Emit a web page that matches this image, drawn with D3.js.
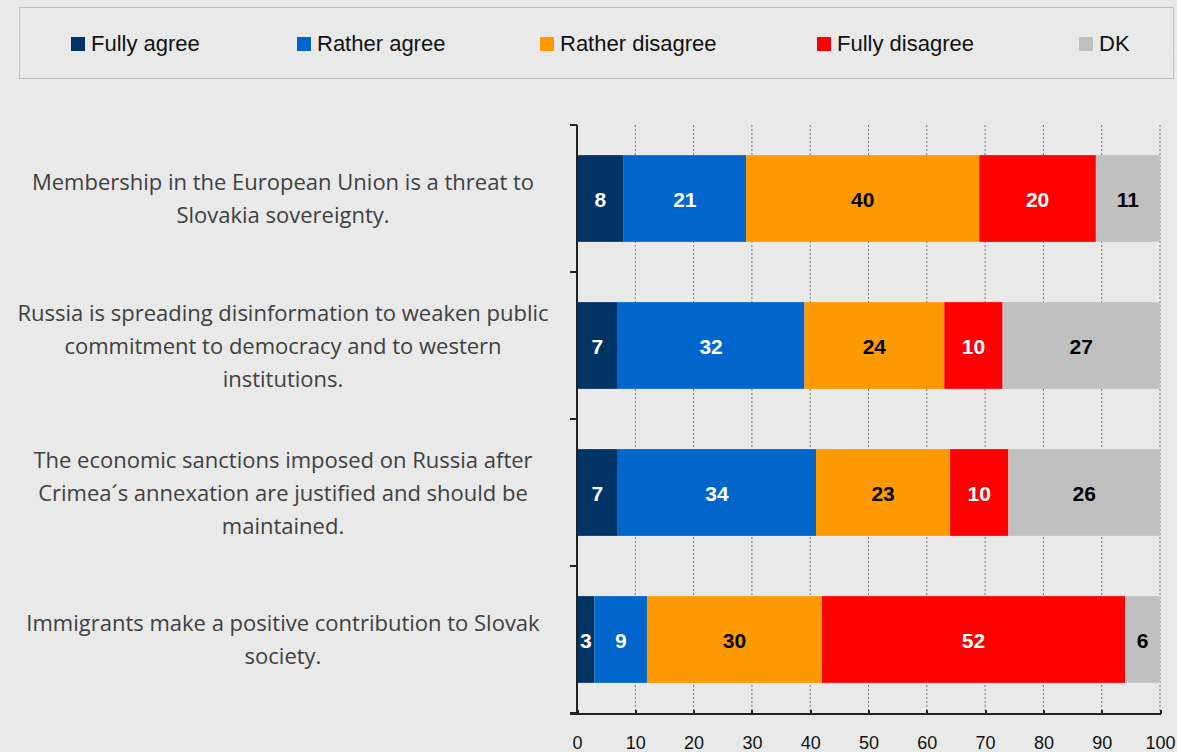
<!DOCTYPE html>
<html lang="en">
<head>
<meta charset="UTF-8" />
<title>Slovakia survey</title>
<script src="https://d3js.org/d3.v7.min.js"></script>
<style>
    body { margin: 0; background: #e9e9e9; }
    .axis path, .axis line { fill: none; stroke: #222; stroke-width: 2px; shape-rendering: crispEdges; }
    .axis text { font-family: "Liberation Sans", Arial, sans-serif; font-size: 18px; fill: #111; }
</style>
</head>
<body>
<script>
    var categories = [
        "Membership in the European Union is a threat to|Slovakia sovereignty.",
        "Russia is spreading disinformation to weaken public|commitment to democracy and to western|institutions.",
        "The economic sanctions imposed on Russia after|Crimea\u00b4s annexation are justified and should be|maintained.",
        "Immigrants make a positive contribution to Slovak|society."
    ];
    var seriesNames = ["Fully agree", "Rather agree", "Rather disagree", "Fully disagree", "DK"];
    var seriesColors = ["#003366", "#0066cc", "#ff9900", "#ff0000", "#c0c0c0"];
    var fullyAgree = [8, 7, 7, 3];
    var ratherAgree = [21, 32, 34, 9];
    var ratherDisagree = [40, 24, 23, 30];
    var fullyDisagree = [20, 10, 10, 52];
    var dk = [11, 27, 26, 6];
    var xTicks = [0, 10, 20, 30, 40, 50, 60, 70, 80, 90, 100];

    var W = 1177, H = 752;
    var svg = d3.select("body").append("svg").attr("width", W).attr("height", H);

    // legend box
    svg.append("rect").attr("x", 19.5).attr("y", 7.5).attr("width", 1154).attr("height", 71)
        .attr("fill", "#e9e9e9").attr("stroke", "#999").attr("stroke-dasharray", "1,1");
    var legendX = [71, 297, 540, 817, 1079];
    var lg = svg.selectAll(".lg").data(seriesNames).enter().append("g")
        .attr("transform", function (d, i) { return "translate(" + legendX[i] + ",37)"; });
    lg.append("rect").attr("width", 14).attr("height", 14).attr("fill", function (d, i) { return seriesColors[i]; });
    lg.append("text").attr("x", 20).attr("y", 14).text(function (d) { return d; })
        .style("font-family", "Liberation Sans, Arial, sans-serif").style("font-size", "22px").attr("fill", "#111");

    var table = categories.map(function (c, i) {
        return { cat: c, "Fully agree": fullyAgree[i], "Rather agree": ratherAgree[i],
            "Rather disagree": ratherDisagree[i], "Fully disagree": fullyDisagree[i], "DK": dk[i] };
    });
    var stacked = d3.stack().keys(seriesNames)(table);

    var x = d3.scaleLinear().domain([0, 100]).range([577, 1160]);
    var y = d3.scaleBand().domain(categories).range([125, 713]).paddingInner(0.41).paddingOuter(0.205);

    // dotted gridlines
    svg.selectAll(".grid").data(xTicks.slice(1)).enter().append("line")
        .attr("x1", function (d) { return x(d); }).attr("x2", function (d) { return x(d); })
        .attr("y1", 125).attr("y2", 713)
        .attr("stroke", "#777").attr("stroke-dasharray", "2,2").attr("stroke-width", 1);

    var layers = svg.selectAll(".layer").data(stacked).enter().append("g")
        .attr("fill", function (d, i) { return seriesColors[i]; });
    layers.selectAll("rect").data(function (d) { return d; }).enter().append("rect")
        .attr("x", function (d) { return x(d[0]); })
        .attr("width", function (d) { return x(d[1]) - x(d[0]); })
        .attr("y", function (d) { return y(d.data.cat); })
        .attr("height", y.bandwidth());

    layers.each(function (s, si) {
        d3.select(this).selectAll("text").data(s).enter().append("text")
            .attr("x", function (d) { return (x(d[0]) + x(d[1])) / 2; })
            .attr("y", function (d) { return y(d.data.cat) + y.bandwidth() / 2 + 8; })
            .attr("text-anchor", "middle")
            .style("font-family", "Liberation Sans, Arial, sans-serif").style("font-size", "21px").style("font-weight", "bold")
            .attr("fill", (si === 2 || si === 4) ? "#000" : "#fff")
            .text(function (d) { return d[1] - d[0]; });
    });

    // y axis with boundary ticks
    svg.append("line").attr("x1", 577).attr("x2", 577).attr("y1", 125).attr("y2", 713)
        .attr("stroke", "#222").attr("stroke-width", 2);
    var bounds = [125, 272, 419, 566, 713];
    svg.selectAll(".yt").data(bounds).enter().append("line")
        .attr("x1", 570).attr("x2", 577).attr("y1", function (d) { return d; }).attr("y2", function (d) { return d; })
        .attr("stroke", "#222").attr("stroke-width", 2);

    // x axis
    var xAxis = svg.append("g").attr("class", "axis").attr("transform", "translate(0,714)")
        .call(d3.axisBottom(x).tickValues(xTicks).tickSize(-4).tickPadding(22).tickSizeOuter(0));
    xAxis.select(".domain").attr("d", "M570,0H1161");

    // category labels
    svg.selectAll(".cat").data(categories).enter().append("text")
        .attr("text-anchor", "middle")
        .style("font-family", "Open Sans, sans-serif").style("font-size", "22px").attr("fill", "#404040")
        .each(function (d) {
            var lines = d.split("|");
            var cy = y(d) + y.bandwidth() / 2;
            var t = d3.select(this);
            lines.forEach(function (ln, k) {
                t.append("tspan").attr("x", 283).attr("y", cy + 8 + (k - (lines.length - 1) / 2) * 33).text(ln);
            });
        });
</script>
</body>
</html>
